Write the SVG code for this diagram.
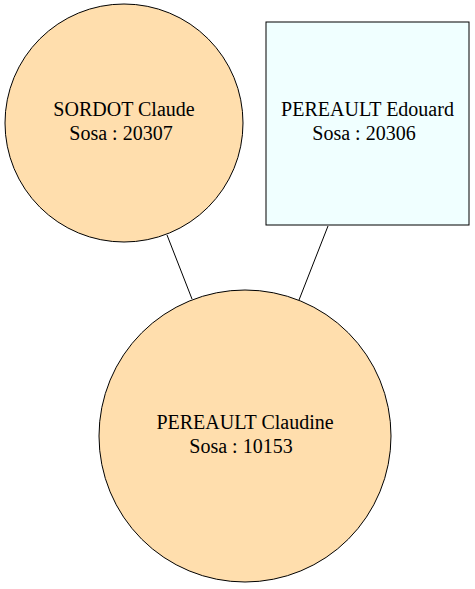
<svg xmlns="http://www.w3.org/2000/svg" width="475" height="589" viewBox="0 0 475 589">
<style>
.n{stroke:#000;stroke-width:1}
.p{fill:#FFDEAD}
.q{fill:#F0FFFF}
text{font-family:"Liberation Serif","Times New Roman",serif;font-size:20px;fill:#000;text-anchor:middle}
.e{stroke:#000;stroke-width:1;fill:none}
</style>
<rect width="475" height="589" fill="#fff"/>
<g id="edges">
<line class="e" x1="167" y1="235" x2="192" y2="299"/>
<line class="e" x1="328" y1="226" x2="299" y2="300"/>
</g>
<g id="node-sordot">
<circle class="n p" cx="124" cy="123" r="119"/>
<text x="124" y="116">SORDOT Claude</text>
<text x="121" y="140">Sosa : 20307</text>
</g>
<g id="node-pereault-edouard">
<rect class="n q" x="266" y="22" width="203" height="203"/>
<text x="367.5" y="116">PEREAULT Edouard</text>
<text x="364" y="140">Sosa : 20306</text>
</g>
<g id="node-pereault-claudine">
<circle class="n p" cx="245" cy="436" r="146"/>
<text x="245" y="429">PEREAULT Claudine</text>
<text x="241" y="453">Sosa : 10153</text>
</g>
</svg>
